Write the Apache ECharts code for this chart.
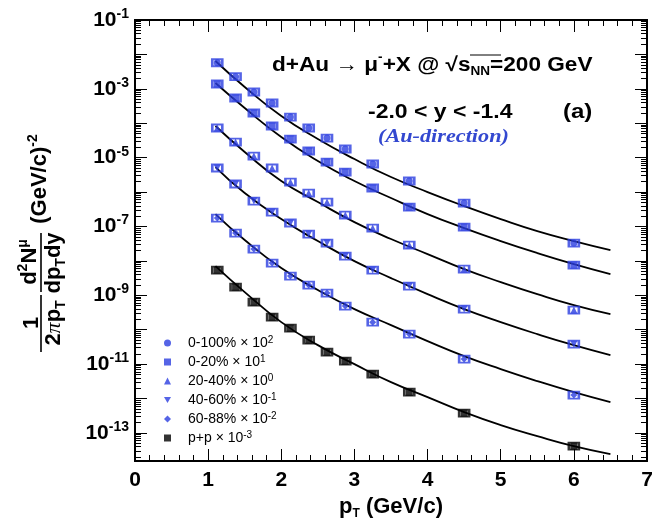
<!DOCTYPE html>
<html>
<head>
<meta charset="utf-8">
<script src="https://cdn.jsdelivr.net/npm/echarts@6/dist/echarts.min.js"></script>
<style>
html, body { margin: 0; padding: 0; background: #fff; }
#chart { width: 654px; height: 525px; }
</style>
</head>
<body>
<div id="chart"></div>
<script>
// pT bin centres (GeV/c)
var ptBins = [1.125, 1.375, 1.625, 1.875, 2.125, 2.375, 2.625, 2.875, 3.25, 3.75, 4.5, 6.0];

// scaled invariant yields
var cent0_100 = [5.74e-3, 2.25e-3, 8.07e-4, 3.87e-4, 1.51e-4, 7.25e-5, 3.71e-5, 1.78e-5, 6.52e-6, 2.09e-6, 4.79e-7, 3.29e-8];
var cent0_20 = [1.38e-3, 5.41e-4, 1.98e-4, 8.29e-5, 3.47e-5, 1.56e-5, 7.45e-6, 3.81e-6, 1.31e-6, 3.66e-7, 9.6e-8, 7.55e-9];
var cent20_40 = [7.25e-5, 2.84e-5, 1.11e-5, 4.99e-6, 1.95e-6, 9.35e-7, 5.12e-7, 2.14e-7, 8.97e-8, 2.88e-8, 5.78e-9, 3.71e-10];
var cent40_60 = [4.99e-6, 1.71e-6, 5.47e-7, 2.62e-7, 1.26e-7, 6.01e-8, 3.29e-8, 1.38e-8, 5.41e-9, 1.85e-9, 3.97e-10, 3.81e-11];
var cent60_88 = [1.75e-7, 6.43e-8, 2.20e-8, 8.63e-9, 3.61e-9, 1.98e-9, 1.16e-9, 4.85e-10, 1.66e-10, 7.45e-11, 1.40e-11, 1.26e-12];
var ppRef = [5.41e-9, 1.73e-9, 6.34e-10, 2.32e-10, 1.11e-10, 4.99e-11, 2.23e-11, 1.22e-11, 5.12e-12, 1.53e-12, 3.77e-13, 4.13e-14];

// fit curves, sampled off the figure
var fitPt = [1.1, 1.5, 2, 2.5, 3, 3.5, 4, 4.5, 5, 5.5, 6, 6.5];
var fit0_100 = [6.43e-3, 1.13e-3, 1.62e-4, 3.48e-5, 9.10e-6, 2.73e-6, 1.00e-6, 3.92e-7, 1.64e-7, 7.35e-8, 3.77e-8, 2.06e-8];
var fit0_20 = [1.48e-3, 2.77e-4, 3.97e-5, 7.96e-6, 2.09e-6, 6.70e-7, 2.29e-7, 8.97e-8, 3.77e-8, 1.69e-8, 8.07e-9, 4.13e-9];
var fit20_40 = [8.30e-5, 1.46e-5, 2.09e-6, 5.12e-7, 1.34e-7, 4.31e-8, 1.58e-8, 5.78e-9, 2.42e-9, 1.08e-9, 5.19e-10, 2.84e-10];
var fit40_60 = [5.33e-6, 9.35e-7, 1.64e-7, 3.77e-8, 9.86e-9, 3.16e-9, 1.08e-9, 3.97e-10, 1.66e-10, 7.45e-11, 3.56e-11, 1.83e-11];
var fit60_88 = [2.29e-7, 4.03e-8, 6.18e-9, 1.42e-9, 3.97e-10, 1.36e-10, 4.67e-11, 1.71e-11, 7.16e-12, 3.21e-12, 1.53e-12, 7.85e-13];
var fitPP = [7.06e-9, 1.24e-9, 1.66e-10, 3.56e-11, 1.00e-11, 3.00e-12, 1.10e-12, 4.03e-13, 1.69e-13, 8.07e-14, 4.13e-14, 2.42e-14];

// legend labels: text and power of ten
var legendNames = ['0-100%', '0-20%', '20-40%', '40-60%', '60-88%', 'p+p'];
var legendPowers = ['2', '1', '0', '-1', '-2', '-3'];

var yMajorTicks = [1e-1, 1e-2, 1e-3, 1e-4, 1e-5, 1e-6, 1e-7, 1e-8, 1e-9, 1e-10, 1e-11, 1e-12, 1e-13];
var yLabelTicks = [1e-1, 1e-3, 1e-5, 1e-7, 1e-9, 1e-11, 1e-13];

var blue = '#2a3de0';
var font = 'Liberation Sans, Arial, Helvetica, sans-serif';

var yMinorTicks = [];
for (var e = -14; e <= -2; e++) {
	for (var m = 2; m <= 9; m++) {
		var v = m * Math.pow(10, e);
		if (v > 1.53e-14 && v < 0.1) yMinorTicks.push(v);
	}
}

function pairs(xs, ys) {
	return xs.map(function (x, i) { return [x, ys[i]]; });
}

var sets = [
	{ name: '0-100%', data: cent0_100, fit: fit0_100, symbol: 'circle', rot: 0, color: blue },
	{ name: '0-20%', data: cent0_20, fit: fit0_20, symbol: 'rect', rot: 0, color: blue },
	{ name: '20-40%', data: cent20_40, fit: fit20_40, symbol: 'triangle', rot: 0, color: blue },
	{ name: '40-60%', data: cent40_60, fit: fit40_60, symbol: 'triangle', rot: 180, color: blue },
	{ name: '60-88%', data: cent60_88, fit: fit60_88, symbol: 'diamond', rot: 0, color: blue },
	{ name: 'p+p', data: ppRef, fit: fitPP, symbol: 'rect', rot: 0, color: '#000' }
];

var series = [];
sets.forEach(function (s) {
	series.push({
		name: 'fit ' + s.name, type: 'line', smooth: true, showSymbol: false,
		data: pairs(fitPt, s.fit), lineStyle: { color: '#000', width: 1.8 }, z: 2, silent: true
	});
	// systematic boxes
	series.push({
		name: 'box ' + s.name, type: 'scatter', symbol: 'rect', symbolSize: [10, 7],
		data: pairs(ptBins, s.data),
		itemStyle: { color: 'rgba(0,0,0,0)', borderColor: s.color, borderWidth: 2.2 }, z: 3
	});
	series.push({
		name: s.name, type: 'scatter', symbol: s.symbol, symbolRotate: s.rot, symbolSize: 7,
		data: pairs(ptBins, s.data), itemStyle: { color: s.color }, z: 4
	});
});

var legendIcons = ['circle', 'rect', 'triangle', 'path://M0,0L20,0L10,17Z', 'diamond', 'rect'];

var yBase = {
	type: 'log', min: 1.53e-14, max: 0.1, logBase: 10,
	splitLine: { show: false },
	axisLine: { show: true, lineStyle: { color: '#000', width: 2 } },
	axisLabel: { show: false }
};

function yAxisDef(pos, minor) {
	var a = JSON.parse(JSON.stringify(yBase));
	a.position = pos;
	a.axisTick = {
		show: true, inside: true, length: minor ? 6 : 12,
		lineStyle: { color: '#000', width: 1 },
		customValues: minor ? yMinorTicks : yMajorTicks
	};
	return a;
}

var yLeft = yAxisDef('left', false);
yLeft.axisLabel = {
	show: true, margin: 6, customValues: yLabelTicks,
	formatter: function (v) {
		var e = Math.round(Math.log(v) / Math.LN10);
		return '{b|10}{e|' + e + '}';
	},
	rich: {
		b: { fontFamily: font, fontWeight: 'bold', fontSize: 21, color: '#000', lineHeight: 26 },
		e: { fontFamily: font, fontWeight: 'bold', fontSize: 14, color: '#000', verticalAlign: 'top', lineHeight: 26 }
	}
};

var xBase = function (pos) {
	return {
		type: 'value', min: 0, max: 7, interval: 1, position: pos,
		splitLine: { show: false },
		axisLine: { show: true, onZero: false, lineStyle: { color: '#000', width: 2 } },
		axisTick: { show: true, inside: true, length: 12, lineStyle: { color: '#000', width: 1 } },
		minorTick: { show: true, splitNumber: 5, length: 6, lineStyle: { color: '#000', width: 1 } },
		axisLabel: { show: false }
	};
};

var xBottom = xBase('bottom');
xBottom.axisLabel = {
	show: true, margin: 9, fontFamily: font, fontWeight: 'bold', fontSize: 21, color: '#000'
};
xBottom.name = '{a|p}{s|T}{a| (GeV/c)}';
xBottom.nameLocation = 'middle';
xBottom.nameGap = 33;
xBottom.nameTextStyle = {
	rich: {
		a: { fontFamily: font, fontWeight: 'bold', fontSize: 22, color: '#000', lineHeight: 26 },
		s: { fontFamily: font, fontWeight: 'bold', fontSize: 12, color: '#000', verticalAlign: 'bottom', lineHeight: 26 }
	}
};

var supRich = {
	a: { fontFamily: font, fontWeight: 'bold', fontSize: 22, color: '#000', lineHeight: 28 },
	sup: { fontFamily: font, fontWeight: 'bold', fontSize: 14, color: '#000', verticalAlign: 'top', lineHeight: 28 },
	sub: { fontFamily: font, fontWeight: 'bold', fontSize: 14, color: '#000', verticalAlign: 'bottom', lineHeight: 28 },
	pi: { fontFamily: 'Liberation Serif, serif', fontStyle: 'italic', fontSize: 22, color: '#000', lineHeight: 28 }
};

// y title is drawn in a group turned by 90 degrees: local x runs up the page
function rotText(imgX, imgY, txt) {
	return {
		type: 'text', x: -imgY, y: imgX,
		style: { text: txt, rich: supRich, align: 'center', verticalAlign: 'middle' }
	};
}

var titleRich = {
	a: { fontFamily: font, fontWeight: 'bold', fontSize: 20, color: '#000', lineHeight: 26 },
	sup: { fontFamily: font, fontWeight: 'bold', fontSize: 12, color: '#000', verticalAlign: 'top', lineHeight: 26 },
	sub: { fontFamily: font, fontWeight: 'bold', fontSize: 12, color: '#000', verticalAlign: 'bottom', lineHeight: 26 }
};

var chart = echarts.init(document.getElementById('chart'));
chart.setOption({
	animation: false,
	backgroundColor: '#fff',
	grid: { left: 135, right: 7, top: 20, bottom: 64, containLabel: false, outerBoundsMode: 'none' },
	xAxis: [xBottom, xBase('top')],
	yAxis: [yLeft, yAxisDef('left', true), yAxisDef('right', false), yAxisDef('right', true)],
	legend: {
		orient: 'vertical', left: 159, top: 330, itemWidth: 7, itemHeight: 7, itemGap: 4,
		data: legendNames.map(function (n, i) {
			return { name: n, icon: legendIcons[i], itemStyle: { color: i === 5 ? '#000' : blue } };
		}),
		formatter: function (name) {
			var i = legendNames.indexOf(name);
			return '{t|' + name + ' × 10}{s|' + legendPowers[i] + '}';
		},
		textStyle: {
			rich: {
				t: { fontFamily: font, fontSize: 14, color: '#000', lineHeight: 16, padding: [0, 0, 0, 12] },
				s: { fontFamily: font, fontSize: 10, color: '#000', verticalAlign: 'top', lineHeight: 16 }
			}
		},
		selectedMode: false
	},
	graphic: [
		{
			type: 'group', rotation: Math.PI / 2, x: 0, y: 0,
			children: [
				rotText(32, 323, '{a|1}'),
				{ type: 'line', shape: { x1: -352, y1: 41, x2: -295, y2: 41 }, style: { stroke: '#000', lineWidth: 1.6 } },
				rotText(54, 323, '{a|2}{pi|π}{a|p}{sub|T}'),
				rotText(30, 262, '{a|d}{sup|2}{a|N}{sup|μ}'),
				{ type: 'line', shape: { x1: -292, y1: 41, x2: -233, y2: 41 }, style: { stroke: '#000', lineWidth: 1.6 } },
				rotText(54, 263, '{a|dp}{sub|T}{a|dy}'),
				rotText(40, 179, '{a|(GeV/c)}{sup|-2}')
			]
		},
		{
			type: 'text', x: 272, y: 65, scaleX: 1.13,
			style: { text: '{a|d+Au → μ}{sup|-}{a|+X @ √}{a|s}{sub|NN}{a|=200 GeV}', rich: titleRich, align: 'left', verticalAlign: 'middle' }
		},
		// bar over the root sign
		{ type: 'line', shape: { x1: 470, y1: 55, x2: 501, y2: 55 }, style: { stroke: '#000', lineWidth: 1 } },
		{
			type: 'text', x: 368, y: 112, scaleX: 1.15,
			style: { text: '{a|-2.0 < y < -1.4}', rich: titleRich, align: 'left', verticalAlign: 'middle' }
		},
		{
			type: 'text', x: 563, y: 112, scaleX: 1.2,
			style: { text: '{a|(a)}', rich: titleRich, align: 'left', verticalAlign: 'middle' }
		},
		{
			type: 'text', x: 378, y: 137, scaleX: 1.17,
			style: {
				text: '(Au-direction)', fill: '#3348d0', align: 'left', verticalAlign: 'middle',
				font: 'italic bold 19px Liberation Serif, serif'
			}
		}
	],
	series: series
});
</script>
</body>
</html>
